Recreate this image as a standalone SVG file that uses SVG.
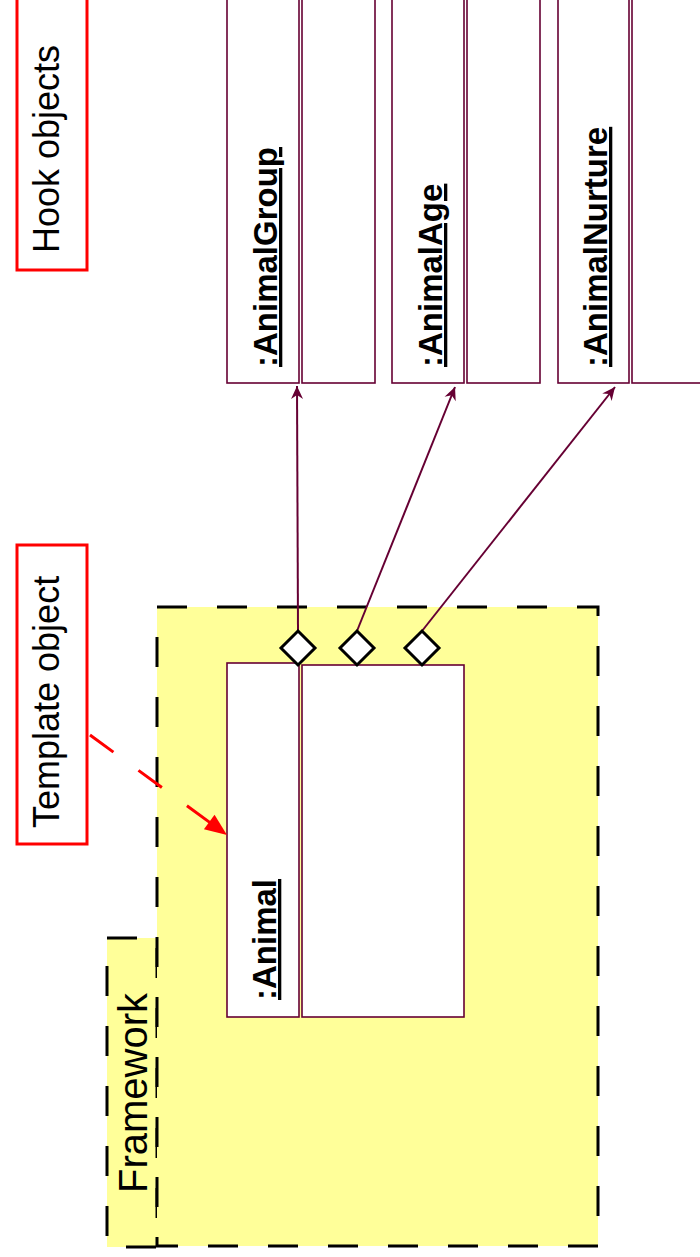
<svg xmlns="http://www.w3.org/2000/svg" width="700" height="1257" viewBox="0 0 700 1257">
  <style>
    .frame { fill: #ffff99; stroke: #000000; stroke-width: 3; stroke-dasharray: 30 30; }
    .obj { fill: #ffffff; stroke: #660033; stroke-width: 1.6; }
    .note { fill: #ffffff; stroke: #ff0000; stroke-width: 3; }
    .label { font-family: "Liberation Sans", Arial, sans-serif; fill: #000000; }
    .objname { font-family: "Liberation Sans", Arial, sans-serif; font-weight: bold; font-size: 33px; text-decoration: underline; fill: #000000; }
    .link { fill: none; stroke: #660033; stroke-width: 2; }
    .port { fill: #ffffff; stroke: #000000; stroke-width: 3; }
  </style>
  <defs>
    <marker id="barb" viewBox="-14 -7 16 14" markerWidth="16" markerHeight="14" refX="0" refY="0" orient="auto" markerUnits="userSpaceOnUse">
      <path d="M0,0 L-13,-6 L-9,0 L-13,6 z" fill="#660033"/>
    </marker>
    <marker id="redhead" viewBox="-24 -10 26 20" markerWidth="26" markerHeight="20" refX="0" refY="0" orient="auto" markerUnits="userSpaceOnUse">
      <path d="M0,0 L-22,-9 L-22,9 z" fill="#ff0000"/>
    </marker>
  </defs>

  <!-- Framework package -->
  <g id="framework">
    <rect class="frame" x="107" y="938" width="50" height="309"/>
    <rect class="frame" x="157" y="607" width="441" height="639"/>
    <text class="label" font-size="40" transform="translate(147,1193) rotate(-90)">Framework</text>
  </g>

  <!-- Notes -->
  <g id="note-hook">
    <rect class="note" x="17" y="-5" width="70" height="275"/>
    <text class="label" font-size="36" transform="translate(59,253) rotate(-90)">Hook objects</text>
  </g>
  <g id="note-template">
    <rect class="note" x="17" y="545" width="70" height="299"/>
    <text class="label" font-size="36" transform="translate(59,828) rotate(-90)">Template object</text>
  </g>

  <!-- Template object -->
  <g id="animal">
    <rect class="obj" x="227" y="663" width="72" height="354"/>
    <rect class="obj" x="302" y="665" width="162" height="352"/>
    <text class="objname" transform="translate(276,1000) rotate(-90)">:Animal</text>
  </g>

  <!-- Hook objects -->
  <g id="animal-group">
    <rect class="obj" x="227" y="-10" width="72" height="393"/>
    <rect class="obj" x="302" y="-10" width="73" height="393"/>
    <text class="objname" transform="translate(277,367) rotate(-90)">:AnimalGroup</text>
  </g>
  <g id="animal-age">
    <rect class="obj" x="392" y="-10" width="72" height="393"/>
    <rect class="obj" x="467" y="-10" width="73" height="393"/>
    <text class="objname" transform="translate(442,367) rotate(-90)">:AnimalAge</text>
  </g>
  <g id="animal-nurture">
    <rect class="obj" x="558" y="-10" width="71" height="393"/>
    <rect class="obj" x="632" y="-10" width="80" height="393"/>
    <text class="objname" transform="translate(607,367) rotate(-90)">:AnimalNurture</text>
  </g>

  <!-- Connectors -->
  <g id="connectors">
    <line class="link" x1="298" y1="631" x2="297" y2="386" marker-end="url(#barb)"/>
    <line class="link" x1="357" y1="631" x2="455" y2="387" marker-end="url(#barb)"/>
    <line class="link" x1="422" y1="631" x2="615" y2="387" marker-end="url(#barb)"/>
    <line x1="90" y1="735" x2="227" y2="835" stroke="#ff0000" stroke-width="3" stroke-dasharray="29 31" marker-end="url(#redhead)"/>
  </g>

  <!-- Hook ports on the template object -->
  <g id="ports">
    <path class="port" d="M298,631 L315,648 L298,665 L281,648 z"/>
    <path class="port" d="M357,631 L374,648 L357,665 L340,648 z"/>
    <path class="port" d="M422,631 L439,648 L422,665 L405,648 z"/>
  </g>
</svg>
